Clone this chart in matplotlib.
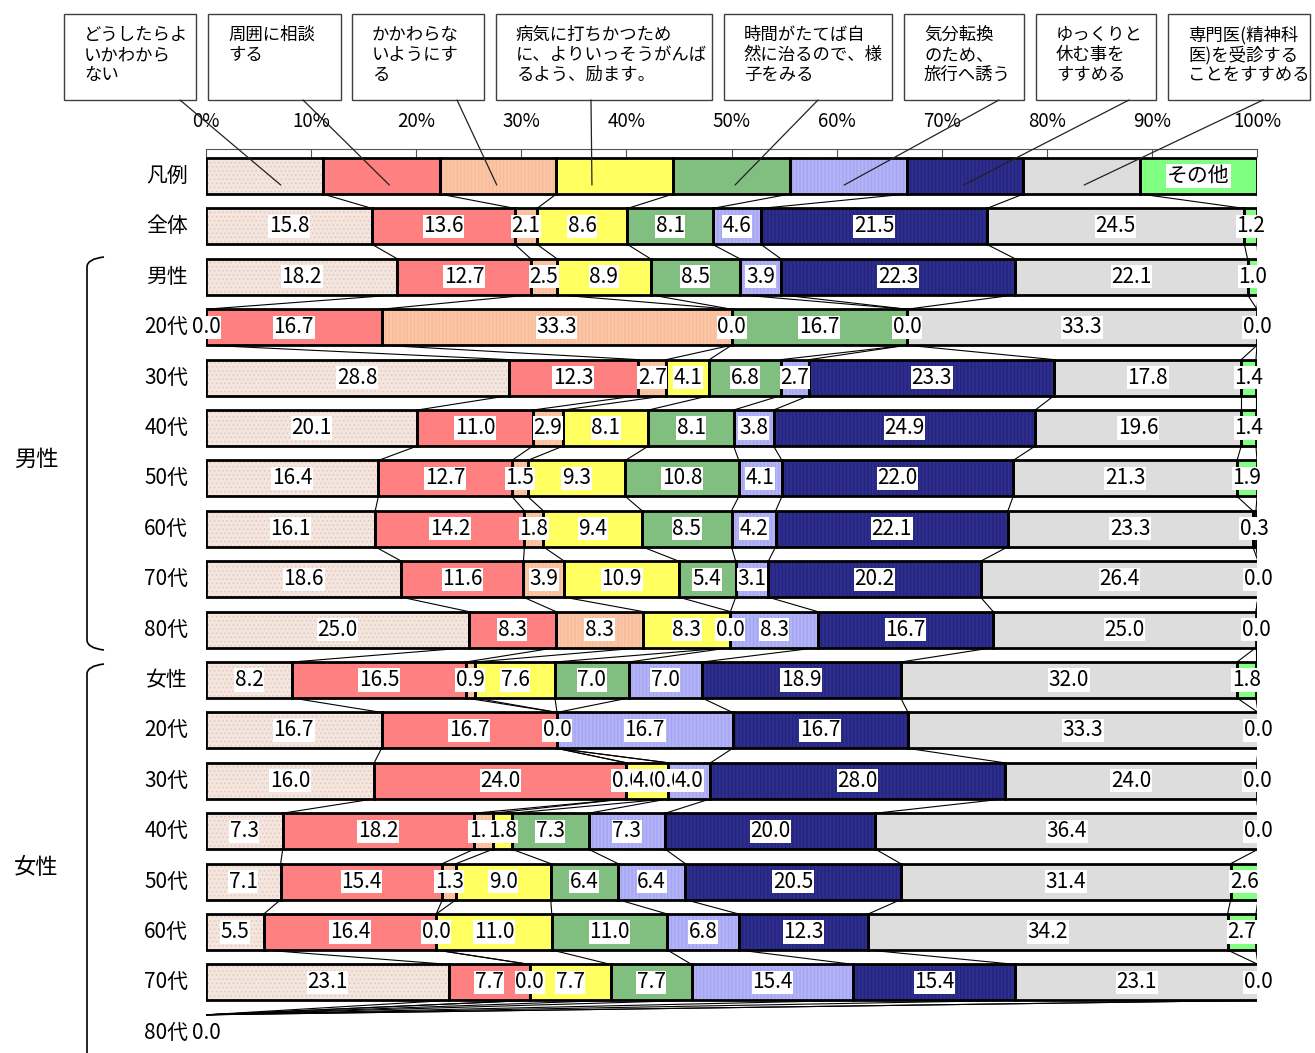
import matplotlib
matplotlib.use('Agg')
import matplotlib.pyplot as plt
from matplotlib.patches import Rectangle, PathPatch, ConnectionPatch
from matplotlib.path import Path
import numpy as np

# ------------------------------------------------------------
# データ（%）
# ------------------------------------------------------------
categories = ['どうしたらよ\nいかわから\nない', '周囲に相談\nする', 'かかわらな\nいようにす\nる',
              '病気に打ちかつため\nに、よりいっそうがんば\nるよう、励ます。',
              '時間がたてば自\n然に治るので、様\n子をみる', '気分転換\nのため、\n旅行へ誘う',
              'ゆっくりと\n休む事を\nすすめる', '専門医(精神科\n医)を受診する\nことをすすめる', 'その他']

row_labels = ['凡例', '全体', '男性', '20代', '30代', '40代', '50代', '60代', '70代', '80代',
              '女性', '20代', '30代', '40代', '50代', '60代', '70代', '80代']

zentai = [15.8, 13.6, 2.1, 8.6, 8.1, 4.6, 21.5, 24.5, 1.2]
dansei = [18.2, 12.7, 2.5, 8.9, 8.5, 3.9, 22.3, 22.1, 1.0]
m20 = [0.0, 16.7, 33.3, 0.0, 16.7, 0.0, 0.0, 33.3, 0.0]
m30 = [28.8, 12.3, 2.7, 4.1, 6.8, 2.7, 23.3, 17.8, 1.4]
m40 = [20.1, 11.0, 2.9, 8.1, 8.1, 3.8, 24.9, 19.6, 1.4]
m50 = [16.4, 12.7, 1.5, 9.3, 10.8, 4.1, 22.0, 21.3, 1.9]
m60 = [16.1, 14.2, 1.8, 9.4, 8.5, 4.2, 22.1, 23.3, 0.3]
m70 = [18.6, 11.6, 3.9, 10.9, 5.4, 3.1, 20.2, 26.4, 0.0]
m80 = [25.0, 8.3, 8.3, 8.3, 0.0, 8.3, 16.7, 25.0, 0.0]
josei = [8.2, 16.5, 0.9, 7.6, 7.0, 7.0, 18.9, 32.0, 1.8]
f20 = [16.7, 16.7, 0.0, 0.0, 0.0, 16.7, 16.7, 33.3, 0.0]
f30 = [16.0, 24.0, 0.0, 4.0, 0.0, 4.0, 28.0, 24.0, 0.0]
f40 = [7.3, 18.2, 1.8, 1.8, 7.3, 7.3, 20.0, 36.4, 0.0]
f50 = [7.1, 15.4, 1.3, 9.0, 6.4, 6.4, 20.5, 31.4, 2.6]
f60 = [5.5, 16.4, 0.0, 11.0, 11.0, 6.8, 12.3, 34.2, 2.7]
f70 = [23.1, 7.7, 0.0, 7.7, 7.7, 15.4, 15.4, 23.1, 0.0]
f80 = [0.0, 0.0, 0.0, 0.0, 0.0, 0.0, 0.0, 0.0, 0.0]

data_rows = [zentai, dansei, m20, m30, m40, m50, m60, m70, m80,
             josei, f20, f30, f40, f50, f60, f70, f80]

# 色（塗り, 縞の色）
face = ['#F4E6DE', '#FF8080', '#FFD3B6', '#FFFF60', '#80BF80',
        '#C4C4FF', '#3A3A9C', '#DDDDDD', '#80FF80']
hatch_col = ['#E0C8BC', None, '#F7B894', None, None,
             '#A0A0F0', '#20207A', None, None]
hatch_pat = ['....', None, '||||||||||||', None, None,
             '||||||||||||', '||||||||||||', None, None]

NARROW = ['Liberation Sans Narrow', 'Noto Sans CJK JP']
JP = ['Noto Sans CJK JP', 'DejaVu Sans']
plt.rcParams['hatch.linewidth'] = 0.6

W, H = 1315, 1053
def px(x, y):
    return (x / W, 1 - y / H)

fig = plt.figure(figsize=(W / 100, H / 100), dpi=100)
ax = fig.add_axes([206 / W, 0, 1051 / W, (H - 149) / H])
ax.set_xlim(0, 100)
ax.set_ylim(-0.536 + 904 / 50.4, -0.536)
bh = 0.714

# 凡例行 + データ行
legend_row = [100 / 9] * 9
all_rows = [legend_row] + data_rows

cums = []
for i, vals in enumerate(all_rows):
    vals = np.array(vals)
    left = np.concatenate([[0], np.cumsum(vals)[:-1]])
    cums.append(np.cumsum(vals))
    for k in range(9):
        if vals[k] <= 0:
            continue
        ax.barh(i, vals[k], left=left[k], height=bh, color=face[k], edgecolor='none', zorder=2)
        if hatch_pat[k]:
            ax.barh(i, vals[k], left=left[k], height=bh, facecolor='none',
                    edgecolor=hatch_col[k], hatch=hatch_pat[k], linewidth=0, zorder=2.5)
        ax.barh(i, vals[k], left=left[k], height=bh, facecolor='none',
                edgecolor='black', linewidth=2, zorder=3)
    if i == 0:
        ax.text(left[8] + vals[8] / 2, i, 'その他', ha='center', va='center', fontsize=15,
                family=JP, zorder=6,
                bbox=dict(facecolor='white', edgecolor='none', pad=1))
    else:
        for k in range(9):
            ax.text(left[k] + vals[k] / 2, i, f'{vals[k]:.1f}', ha='center', va='center',
                    fontsize=15, family=NARROW, zorder=6,
                    bbox=dict(facecolor='white', edgecolor='none', pad=0.5))

# 区分線（系列線）
for i in range(len(all_rows) - 1):
    for k in range(9):
        ax.plot([cums[i][k], cums[i + 1][k]], [i + bh / 2, i + 1 - bh / 2],
                color='black', linewidth=0.8, zorder=1)

# 行ラベル
for i, lab in enumerate(row_labels):
    ax.text(-1.7, i, lab, ha='right', va='center', fontsize=15, family=NARROW, clip_on=False)

# 上側の目盛
ax.xaxis.tick_top()
ax.set_xticks(np.arange(0, 101, 10))
ax.set_xticklabels([f'{t}%' for t in range(0, 101, 10)], family=NARROW, fontsize=13.5)
ax.tick_params(axis='x', direction='in', length=6, width=0.8, color='#555555', pad=12)
ax.set_yticks([])
for side in ['left', 'right', 'bottom']:
    ax.spines[side].set_visible(False)
ax.spines['top'].set_color('#555555')
ax.spines['top'].set_linewidth(0.8)

# 凡例ボックスと引出線
box_x = [(64, 196), (208, 341), (352, 484), (496, 712), (724, 892),
         (904, 1024), (1036, 1156), (1168, 1310)]
lead_start = [180, 303, 457, 591, 818, 999, 1129, 1263]
lead_frac = [0.64, 0.57, 0.49, 0.305, 0.53, 0.465, 0.487, 0.52]
for k in range(8):
    x0, x1 = box_x[k]
    bl = px(x0, 100)
    fig.add_artist(Rectangle(bl, (x1 - x0) / W, 86 / H, transform=fig.transFigure,
                             facecolor='white', edgecolor='#404040', linewidth=1))
    for j, line in enumerate(categories[k].split('\n')):
        fig.text(*px(x0 + 20, 35 + 20 * j), line, ha='left', va='center',
                 fontsize=12.5, family=JP)
    xe = (k + lead_frac[k]) * 100 / 9
    con = ConnectionPatch(xyA=px(lead_start[k], 100), coordsA=fig.transFigure,
                          xyB=(xe, bh * 0.25), coordsB=ax.transData,
                          color='#222222', linewidth=0.9, zorder=10)
    fig.add_artist(con)

# 男性・女性の括弧
def bracket(top, bottom):
    x_in, x_out, r = 104, 87, 10
    verts = [px(x_in, top), px(x_out, top + 2), px(x_out, top + r),
             px(x_out, bottom - r), px(x_out, bottom - 2), px(x_in, bottom)]
    codes = [Path.MOVETO, Path.CURVE3, Path.CURVE3, Path.LINETO, Path.CURVE3, Path.CURVE3]
    fig.add_artist(PathPatch(Path(verts, codes), transform=fig.transFigure,
                             fill=False, edgecolor='black', linewidth=1.2))

bracket(257, 650)
bracket(664, 1080)
fig.text(*px(36, 459), '男性', ha='center', va='center', fontsize=16, family=JP)
fig.text(*px(36, 867), '女性', ha='center', va='center', fontsize=16, family=JP)

fig.savefig('out.png', dpi=100)
